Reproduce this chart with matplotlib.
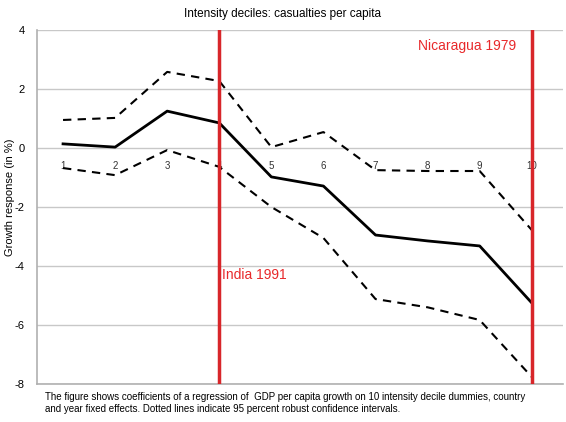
import matplotlib
matplotlib.use("Agg")
import matplotlib.pyplot as plt

# decile data
deciles = [1, 2, 3, 4, 5, 6, 7, 8, 9, 10]
coef = [0.14, 0.03, 1.25, 0.85, -0.98, -1.29, -2.95, -3.15, -3.32, -5.25]
upper = [0.95, 1.02, 2.58, 2.27, 0.03, 0.54, -0.75, -0.78, -0.78, -2.78]
lower = [-0.68, -0.92, -0.07, -0.64, -2.0, -3.05, -5.12, -5.4, -5.83, -7.76]
yticks = [4, 2, 0, -2, -4, -6, -8]
events = [4, 10]
event_labels = ["India 1991", "Nicaragua 1979"]

plt.rcParams['font.family'] = ['Liberation Sans', 'DejaVu Sans']
plt.rcParams['axes.unicode_minus'] = False

fig = plt.figure(figsize=(5.66, 4.22), dpi=100)
ax = fig.add_axes([37 / 566, 38 / 422, (563 - 37) / 566, (384 - 30) / 422])

for y in yticks:
    ax.axhline(y, color="#c8c8c8", lw=1, zorder=0)

ax.plot(deciles, coef, color="black", lw=2, zorder=3)
ax.plot(deciles, upper, color="black", lw=1.5, ls=(0, (4, 3)), zorder=3)
ax.plot(deciles, lower, color="black", lw=1.5, ls=(0, (4, 3)), zorder=3)

for x in events:
    ax.axvline(x, color="#d8262a", lw=2.5, zorder=4)

ax.text(events[0] + 0.05, -4.3, event_labels[0], color="#e8292b", fontsize=10, va="center", ha="left")
ax.text(events[1] - 0.3, 3.45, event_labels[1], color="#e8292b", fontsize=10, va="center", ha="right")

# category labels sit just under the zero line
for d in deciles:
    ax.text(d, -0.62, str(d), fontsize=7, ha="center", va="center", color="#333333", zorder=2)

ax.set_xlim(0.5, 10.6)
ax.set_ylim(-8, 4)
ax.set_xticks([])
ax.set_yticks(yticks)
ax.tick_params(axis="y", length=0, labelsize=8, pad=9)
for s in ["top", "right"]:
    ax.spines[s].set_visible(False)
for s in ["left", "bottom"]:
    ax.spines[s].set_color("#b0b0b0")
    ax.spines[s].set_linewidth(1.2)

fig.text(10 / 566, 1 - 197 / 422, "Growth response (in %)", rotation=90, ha="center", va="center", fontsize=8)
fig.text(0.5, 1 - 14 / 422, "Intensity deciles: casualties per capita", ha="center", va="center", fontsize=8.5)
fig.text(45 / 566, 1 - 403 / 422,
         "The figure shows coefficients of a regression of  GDP per capita growth on 10 intensity decile dummies, country\n"
         "and year fixed effects. Dotted lines indicate 95 percent robust confidence intervals.",
         ha="left", va="center", fontsize=7, linespacing=1.2)

fig.savefig("out.png", dpi=100)
